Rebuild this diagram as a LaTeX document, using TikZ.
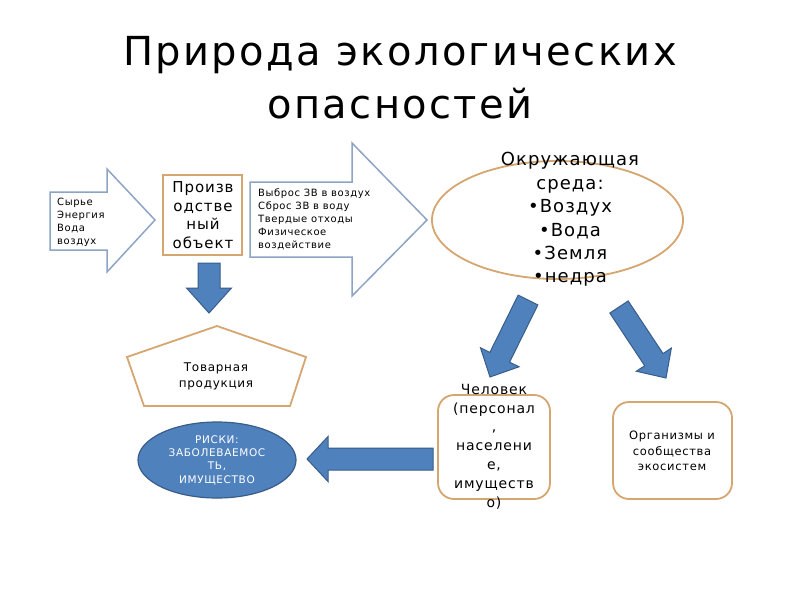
\documentclass[tikz,border=0pt]{standalone}
\usepackage{fontspec}
\setmainfont{DejaVu Sans}[LetterSpace=6]
\usetikzlibrary{calc,shapes.geometric}
\definecolor{tanline}{RGB}{214,166,112}
\definecolor{lightarrow}{RGB}{142,164,196}
\definecolor{bluefill}{RGB}{79,129,189}
\definecolor{blueline}{RGB}{56,93,138}
\newcommand{\blkarrow}[5]{%
  \coordinate (ba-a) at (#1);
  \coordinate (ba-b) at (#2);
  \coordinate (ba-h) at ($(ba-b)!#5!(ba-a)$);
  \filldraw[fill=bluefill, draw=blueline, line width=1pt, line join=miter]
    ($(ba-a)!#3!90:(ba-b)$) -- ($(ba-h)!#3!90:(ba-b)$) -- ($(ba-h)!#4!90:(ba-b)$)
    -- (ba-b) -- ($(ba-h)!#4!-90:(ba-b)$) -- ($(ba-h)!#3!-90:(ba-b)$)
    -- ($(ba-a)!#3!-90:(ba-b)$) -- cycle;}
\tikzset{
  tanbox/.style={draw=tanline, line width=1.8pt, fill=white},
  outarrow/.style={draw=lightarrow, line width=1.5pt, fill=white, line join=miter},
  txt/.style={inner sep=0pt, align=center},
}
\begin{document}
\begin{tikzpicture}[x=1pt,y=-1pt]
\useasboundingbox[fill=white] (0,0) rectangle (800,600);

% title
\node[anchor=base, inner sep=0pt, font=\fontsize{40}{48}\selectfont] (t1) at (400,65) {Природа экологических};
\node[anchor=base, inner sep=0pt, font=\fontsize{40}{48}\selectfont] (t2) at (400,118) {опасностей};

% input arrow
\draw[outarrow] (50,192) -- (107,192) -- (107,169) -- (155,220) -- (107,272) -- (107,250) -- (50,250) -- cycle;
\node[txt, align=left, anchor=west, font=\fontsize{10}{13}\selectfont] (in) at (57,222) {Сырье\\Энергия\\Вода\\воздух};

% production object
\draw[tanbox] (163,175) rectangle (242,255);
\node[txt, font=\fontsize{15}{18.5}\selectfont] (prod) at (203,215) {Произв\\одстве\\ный\\объект};

% output arrow
\draw[outarrow] (250,182) -- (352,182) -- (352,143) -- (427,220) -- (352,296) -- (352,257) -- (250,257) -- cycle;
\node[txt, align=left, anchor=west, font=\fontsize{10}{13}\selectfont] (out) at (258,219) {Выброс ЗВ в воздух\\Сброс ЗВ в воду\\Твердые отходы\\Физическое\\воздействие};

% environment ellipse
\draw[tanline, line width=1.8pt] (557.5,220) ellipse [x radius=125.5, y radius=59];
\node[txt, font=\fontsize{18}{23.4}\selectfont] (env) at (570,219.5) {Окружающая\\среда:\\•Воздух\\•Вода\\•Земля\\•недра};

% down arrow
\blkarrow{209,263}{209,313}{11pt}{22.5pt}{25pt}

% pentagon
\draw[tanbox, line join=miter] (217,326) -- (306,357) -- (290,406) -- (144,406) -- (127,357) -- cycle;
\node[txt, font=\fontsize{12}{16}\selectfont] (goods) at (216,376) {Товарная\\продукция};

% risk ellipse
\filldraw[fill=bluefill, draw=blueline, line width=1.2pt] (217,460) ellipse [x radius=79, y radius=38];
\node[txt, text=white, font=\fontsize{10.5}{13.3}\selectfont] (risk) at (217,460) {РИСКИ:\\ЗАБОЛЕВАЕМОС\\ТЬ,\\ИМУЩЕСТВО};

% left arrow
\blkarrow{433,459}{307,459}{11pt}{22.5pt}{21pt}

% diagonal arrows
\blkarrow{528,300}{490,377}{11pt}{21.5pt}{22pt}
\blkarrow{619,307}{666,378}{11pt}{21pt}{22pt}

% human box
\draw[tanbox, rounded corners=16pt] (438,395) rectangle (550,499);
\node[txt, font=\fontsize{14}{18.8}\selectfont] (human) at (494,446.5) {Человек\\(персонал\\,\\населени\\е,\\имуществ\\о)};

% organisms box
\draw[tanbox, rounded corners=16pt] (613,402) rectangle (732,499);
\node[txt, font=\fontsize{11.5}{15.5}\selectfont] (org) at (672,451) {Организмы и\\сообщества\\экосистем};
\end{tikzpicture}
\end{document}
